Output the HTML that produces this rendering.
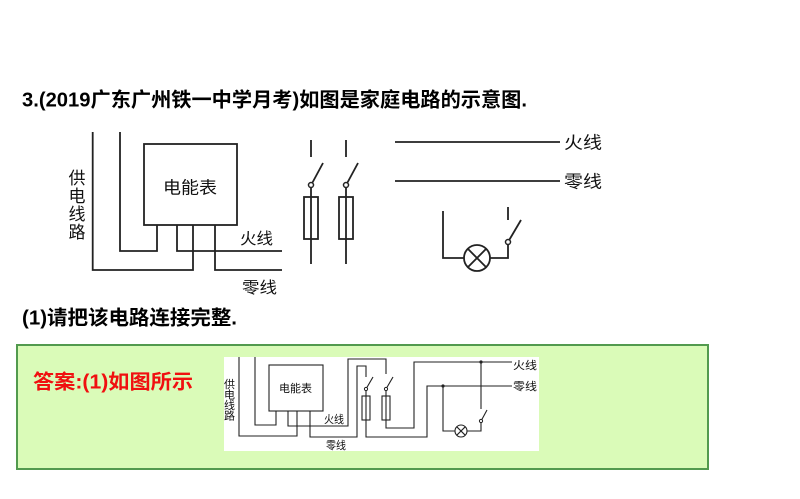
<!DOCTYPE html>
<html>
<head>
<meta charset="utf-8">
<style>
  html,body{margin:0;padding:0;background:#fff;}
  body{width:800px;height:499px;overflow:hidden;}
  svg{display:block;}
  text{font-family:"Liberation Sans","Noto Sans CJK SC",sans-serif;}
</style>
</head>
<body>
<svg width="800" height="499" viewBox="0 0 800 499" xmlns="http://www.w3.org/2000/svg">
  <rect x="0" y="0" width="800" height="499" fill="#ffffff"/>

  <!-- Title -->
  <text x="22" y="106.5" font-size="20" font-weight="bold" fill="#000" textLength="505" lengthAdjust="spacingAndGlyphs">3.(2019广东广州铁一中学月考)如图是家庭电路的示意图.</text>

  <!-- Top diagram -->
  <g fill="none" stroke="#222" stroke-width="1.8">
    <path d="M92.7,132 V270 H193 V225"/>
    <path d="M120,132 V251 H157 V225"/>
    <rect x="144" y="144" width="93" height="81"/>
    <path d="M177,225 V251 H282"/>
    <path d="M215,225 V270 H282"/>

    <!-- switch/fuse 1 -->
    <path d="M311,140 V157"/>
    <path d="M312.5,182.5 L323,163"/>
    <path d="M311,187.5 V264"/>
    <rect x="304" y="197" width="14" height="42"/>
    <!-- switch/fuse 2 -->
    <path d="M346,140 V157"/>
    <path d="M347.5,182.5 L358,163"/>
    <path d="M346,187.5 V264"/>
    <rect x="339" y="197" width="14" height="42"/>

    <!-- mains lines -->
    <path d="M395,142 H560"/>
    <path d="M395,181 H560"/>

    <!-- lamp circuit -->
    <path d="M443,211 V258 H464"/>
    <circle cx="477" cy="258" r="13"/>
    <path d="M467.8,248.8 L486.2,267.2 M486.2,248.8 L467.8,267.2"/>
    <path d="M490,258 H508 V244.5"/>
    <path d="M509.5,239.5 L521,220"/>
    <path d="M508,207 V220"/>
  </g>
  <g fill="#fff" stroke="#222" stroke-width="1.5">
    <circle cx="311" cy="185" r="2.5"/>
    <circle cx="346" cy="185" r="2.5"/>
    <circle cx="508" cy="242" r="2.5"/>
  </g>

  <!-- Top diagram labels -->
  <text x="163" y="193.5" font-size="17" fill="#111" textLength="54" lengthAdjust="spacingAndGlyphs">电能表</text>
  <text x="240" y="244" font-size="16" fill="#111" textLength="33" lengthAdjust="spacingAndGlyphs">火线</text>
  <text x="242" y="293" font-size="16" fill="#111" textLength="35" lengthAdjust="spacingAndGlyphs">零线</text>
  <text x="564" y="148.5" font-size="17" fill="#111" textLength="38" lengthAdjust="spacingAndGlyphs">火线</text>
  <text x="564" y="187.5" font-size="17" fill="#111" textLength="38" lengthAdjust="spacingAndGlyphs">零线</text>
  <g font-size="17" fill="#111" text-anchor="middle">
    <text x="77" y="184">供</text>
    <text x="77" y="202">电</text>
    <text x="77" y="220">线</text>
    <text x="77" y="238">路</text>
  </g>

  <!-- Question (1) -->
  <text x="22" y="324.5" font-size="20" font-weight="bold" fill="#000" textLength="215" lengthAdjust="spacingAndGlyphs">(1)请把该电路连接完整.</text>

  <!-- Answer box -->
  <rect x="17" y="345" width="691" height="124" fill="#dafbb8" stroke="#529a4e" stroke-width="2"/>
  <text x="33" y="388.5" font-size="20" font-weight="bold" fill="#f01010" textLength="160" lengthAdjust="spacingAndGlyphs">答案:(1)如图所示</text>

  <!-- Answer diagram -->
  <rect x="224" y="357" width="315" height="94" fill="#ffffff"/>
  <g fill="none" stroke="#222" stroke-width="1.1">
    <path d="M239,357 V436 H297 V411"/>
    <path d="M255,357 V425 H276 V411"/>
    <rect x="269" y="365" width="54" height="46"/>
    <path d="M288,411 V426 H348 V359 H386 V374"/>
    <path d="M310,411 V437 H357 V366 H366 V377"/>

    <!-- switch/fuse 1 -->
    <path d="M366.8,387.6 L373,377"/>
    <path d="M366,390.5 V437 H427 V386 H512"/>
    <rect x="362" y="396" width="8" height="24"/>
    <!-- switch/fuse 2 -->
    <path d="M386.8,387.6 L393,377"/>
    <path d="M386,390.5 V428 H414 V362 H512"/>
    <rect x="382" y="396" width="8" height="24"/>

    <!-- lamp branch -->
    <path d="M481,362 V409"/>
    <path d="M481.8,419.6 L487,410"/>
    <path d="M481,422.5 V431 H467"/>
    <circle cx="461" cy="431" r="6"/>
    <path d="M456.8,426.8 L465.2,435.2 M465.2,426.8 L456.8,435.2"/>
    <path d="M455,431 H443 V386"/>
  </g>
  <g fill="#fff" stroke="#222" stroke-width="1">
    <circle cx="366" cy="389" r="1.6"/>
    <circle cx="386" cy="389" r="1.6"/>
    <circle cx="481" cy="421" r="1.6"/>
  </g>
  <circle cx="481" cy="362" r="1.6" fill="#222"/>
  <circle cx="443" cy="386" r="1.6" fill="#222"/>

  <!-- Answer diagram labels -->
  <text x="279" y="392" font-size="11" fill="#111" textLength="33" lengthAdjust="spacingAndGlyphs">电能表</text>
  <text x="324" y="423" font-size="11" fill="#111" textLength="20" lengthAdjust="spacingAndGlyphs">火线</text>
  <text x="326" y="449" font-size="11" fill="#111" textLength="20" lengthAdjust="spacingAndGlyphs">零线</text>
  <text x="513" y="369" font-size="11" fill="#111" textLength="24" lengthAdjust="spacingAndGlyphs">火线</text>
  <text x="513" y="390" font-size="11" fill="#111" textLength="24" lengthAdjust="spacingAndGlyphs">零线</text>
  <g font-size="11" fill="#111" text-anchor="middle">
    <text x="229.5" y="388">供</text>
    <text x="229.5" y="398.5">电</text>
    <text x="229.5" y="409">线</text>
    <text x="229.5" y="419.5">路</text>
  </g>
</svg>
</body>
</html>
